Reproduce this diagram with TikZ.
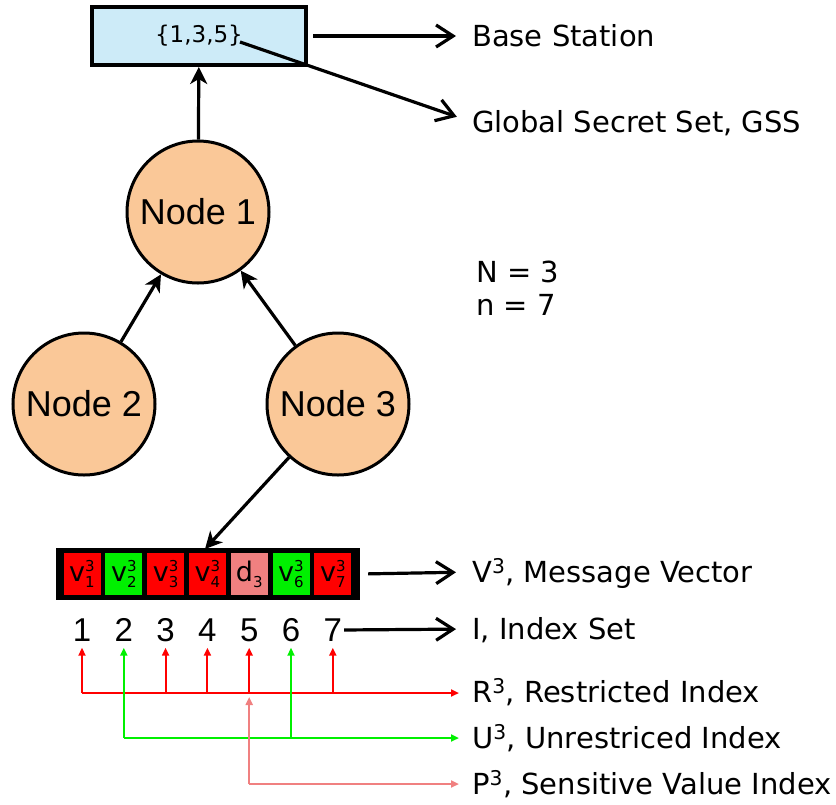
\documentclass[tikz,border=0pt]{standalone}
\usepackage{fontspec}
\setmainfont{DejaVu Sans}
\newfontfamily\arialfont{Liberation Sans}
\usetikzlibrary{arrows.meta}
\definecolor{boxblue}{RGB}{205,235,248}
\definecolor{peach}{RGB}{250,200,152}
\definecolor{vred}{RGB}{255,0,0}
\definecolor{vgreen}{RGB}{0,240,0}
\definecolor{vpink}{RGB}{240,128,128}
\newcommand\cellv[1]{\fontsize{27}{27}\selectfont v\rlap{\raisebox{10.5pt}{\fontsize{15}{15}\selectfont 3}}\raisebox{-6pt}{\fontsize{15}{15}\selectfont #1}}
\newcommand\celld{\fontsize{27}{27}\selectfont d\raisebox{-6pt}{\fontsize{15}{15}\selectfont 3}}
\begin{document}
\begin{tikzpicture}[x=1pt,y=-1pt,
  lbl/.style={anchor=west, inner sep=0pt, font=\fontsize{29}{29}\selectfont, text height=21pt, text depth=0pt},
  bigarrow/.style={line width=3.2pt, -{Straight Barb[length=17pt,width=22pt]}},
  conn/.style={line width=3.2pt, -{Stealth[length=17pt,width=17pt,inset=5pt]}},
  nodec/.style={circle, draw, line width=3pt, fill=peach, minimum size=142pt, inner sep=0pt, font=\arialfont\fontsize{36}{36}\selectfont},
  cell/.style={minimum width=37pt, minimum height=42pt, inner sep=0pt},
  idx/.style={inner sep=0pt, font=\arialfont\fontsize{33}{33}\selectfont, text height=23pt, text depth=0pt},
  cline/.style={line width=2pt, -{Triangle[length=8pt,width=7pt]}}
]
\useasboundingbox (0,0) rectangle (836,804);

% base station box
\node[draw, line width=4pt, fill=boxblue, minimum width=214pt, minimum height=58pt, inner sep=0pt, font=\fontsize{23}{23}\selectfont] (bs) at (199,36) {\{1,3,5\}};
\coordinate (gssfrom) at (240,42);
\node[lbl] (bsl) at (472,36) {Base Station};
\node[lbl] (gss) at (472,122) {Global Secret Set, GSS};
\draw[bigarrow, shorten <=5pt, shorten >=16pt] (bs.east) -- (bsl.west);
\draw[bigarrow, shorten >=16pt] (gssfrom) -- (gss.west);

% tree nodes
\node[nodec] (n1) at (198,212) {Node 1};
\node[nodec] (n2) at (84,404) {Node 2};
\node[nodec] (n3) at (338,404) {Node 3};
\draw[conn] (n1) -- (bs);
\draw[conn] (n2) -- (n1);
\draw[conn] (n3) -- (n1);

\node[anchor=west, inner sep=0pt, font=\fontsize{29}{33}\selectfont, align=left] (params) at (476,288) {N = 3\\n = 7};

% message vector
\node[fill=black, minimum width=304pt, minimum height=52pt, inner sep=0pt] (vec) at (208,574) {};
\coordinate (vtop) at (205,549);
\draw[conn] (n3) -- (vtop);
\node[cell, fill=vred]   (c1) at (82,574)    {\cellv{1}};
\node[cell, fill=vgreen] (c2) at (123.8,574) {\cellv{2}};
\node[cell, fill=vred]   (c3) at (165.6,574) {\cellv{3}};
\node[cell, fill=vred]   (c4) at (207.4,574) {\cellv{4}};
\node[cell, fill=vpink]  (c5) at (249.2,574) {\celld};
\node[cell, fill=vgreen] (c6) at (291,574)   {\cellv{6}};
\node[cell, fill=vred]   (c7) at (332.8,574) {\cellv{7}};
\node[lbl] (vl) at (472,572) {V\textsuperscript{3}, Message Vector};
\draw[bigarrow, shorten <=8pt, shorten >=16pt] (vec.east) -- (vl.west);

% index set
\node[idx] (i1) at (82,630) {1};
\node[idx] (i2) at (123.8,630) {2};
\node[idx] (i3) at (165.6,630) {3};
\node[idx] (i4) at (207.4,630) {4};
\node[idx] (i5) at (249.2,630) {5};
\node[idx] (i6) at (291,630) {6};
\node[idx] (i7) at (332.8,630) {7};
\node[lbl] (il) at (472,629) {I, Index Set};
\draw[bigarrow, shorten <=2pt, shorten >=16pt] (i7.east) -- (il.west);

% restricted / unrestricted / sensitive
\node[lbl] (rl) at (472,692) {R\textsuperscript{3}, Restricted Index};
\node[lbl] (ul) at (472,738) {U\textsuperscript{3}, Unrestriced Index};
\node[lbl] (pl) at (472,784) {P\textsuperscript{3}, Sensitive Value Index};
\coordinate (ry) at (82,693);
\coordinate (gy) at (123.8,738);
\coordinate (py) at (249.2,784);

\draw[cline, vred, shorten >=13pt] (ry) -- (ry -| rl.west);
\foreach \k in {1,3,4,5,7}{
  \draw[cline, vred, shorten >=6pt] (i\k |- ry) -- (i\k.south);
}
\draw[cline, vgreen, shorten >=13pt] (gy) -- (gy -| ul.west);
\foreach \k in {2,6}{
  \draw[cline, vgreen, shorten >=6pt] (i\k |- gy) -- (i\k.south);
}
\draw[cline, vpink, shorten >=13pt] (py) -- (py -| pl.west);
\draw[cline, vpink, shorten >=4pt] (py) -- (py |- ry);
\end{tikzpicture}
\end{document}
